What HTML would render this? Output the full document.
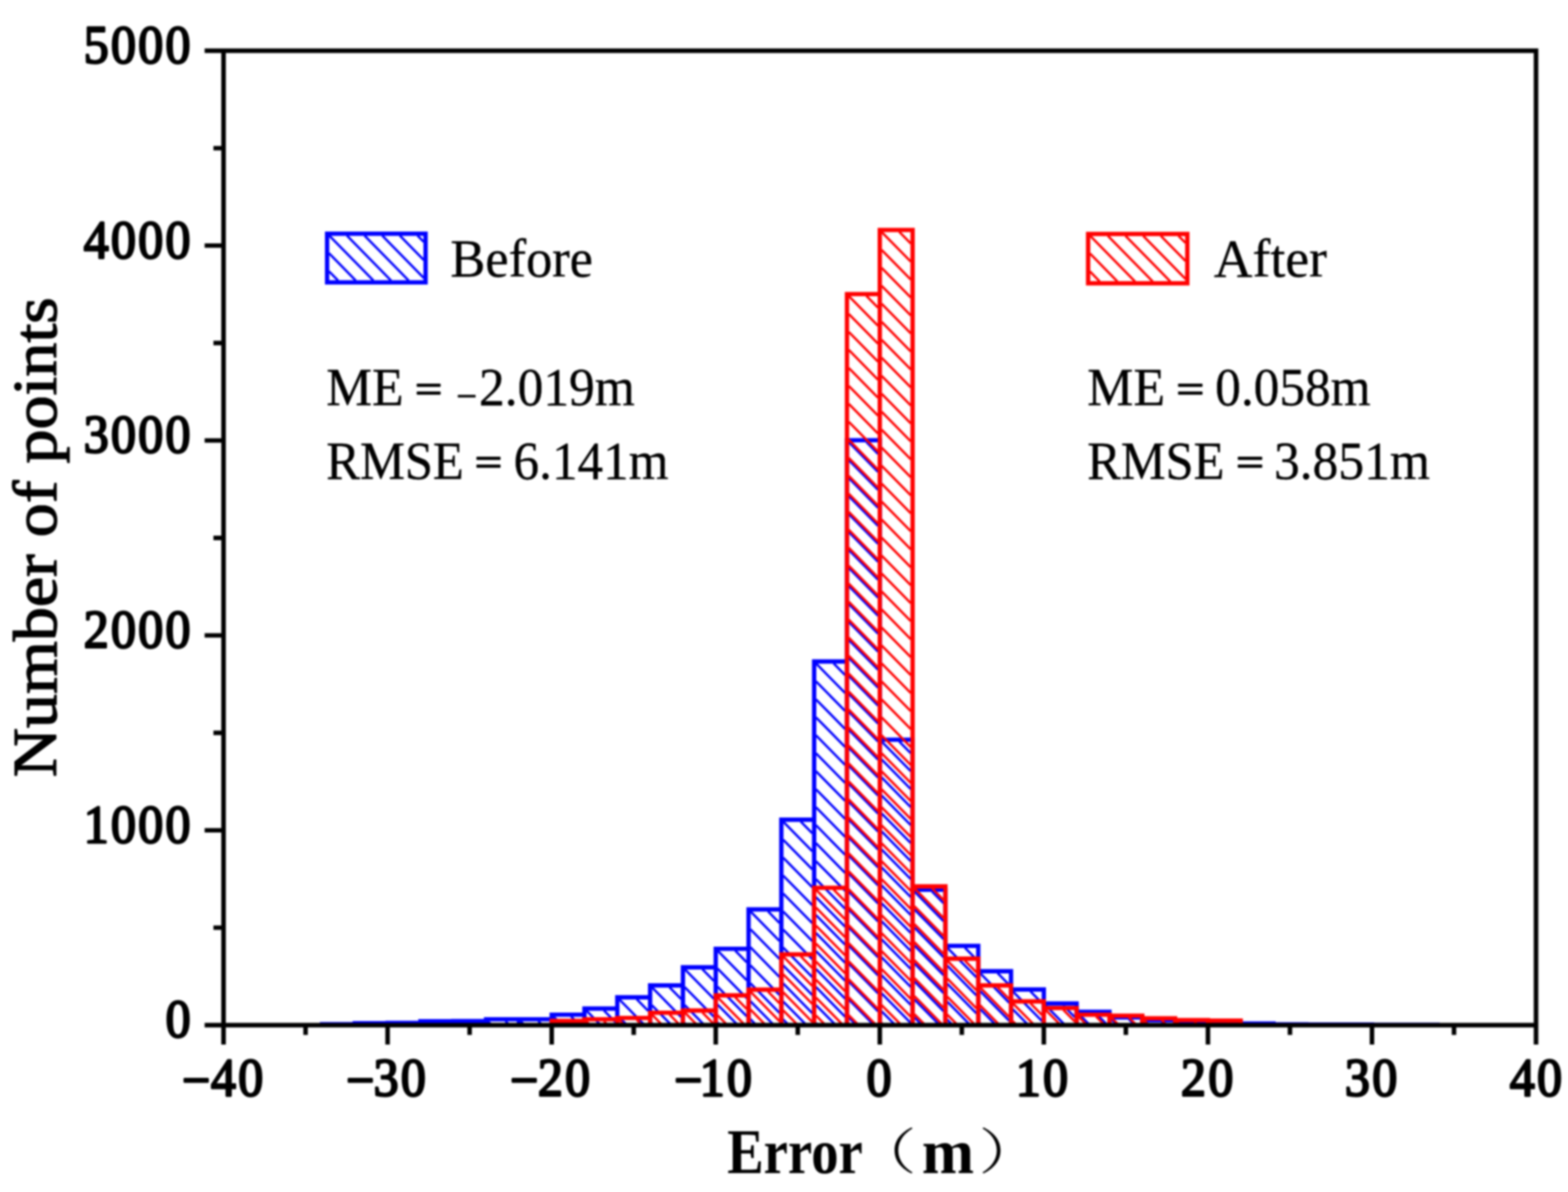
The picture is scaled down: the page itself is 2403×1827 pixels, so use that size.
<!DOCTYPE html>
<html lang="en"><head><meta charset="utf-8"><title>Error histogram</title>
<style>html,body{margin:0;padding:0;background:#fff}body{width:2403px;height:1827px;overflow:hidden}svg{display:block}text{white-space:pre}</style>
</head><body>
<svg width="2403" height="1827" viewBox="0 0 2403 1827">
<rect width="2403" height="1827" fill="#fff"/>
<defs><filter id="soft" filterUnits="userSpaceOnUse" x="0" y="0" width="2403" height="1827" color-interpolation-filters="sRGB"><feGaussianBlur stdDeviation="1.6"/></filter></defs>
<g filter="url(#soft)">
<rect width="2403" height="1827" fill="#fff"/>
<g id="bars-before">
<path d="M674.1 1568.1L677.2 1571.3M647.1 1568.2L650.2 1571.3M724.4 1567.8L727.8 1571.3M697.4 1567.9L700.8 1571.3M774.7 1565.1L780.7 1571.3M747.7 1565.2L753.7 1571.3M825.0 1565.1L831.0 1571.3M798.0 1565.2L804.0 1571.3M875.2 1558.0L888.3 1571.3M848.2 1558.0L861.3 1571.3M925.5 1548.7L943.2 1566.7M898.5 1548.8L920.7 1571.3M975.8 1531.4L993.5 1549.4M948.8 1531.4L987.9 1571.3M948.8 1559.0L960.9 1571.3M1026.1 1513.2L1043.8 1531.2M999.1 1513.2L1043.8 1558.7M999.1 1540.8L1029.1 1571.3M999.1 1568.3L1002.0 1571.3M1076.4 1485.4L1094.1 1503.4M1049.4 1485.4L1094.1 1531.0M1049.4 1513.0L1094.1 1558.5M1049.4 1540.6L1079.6 1571.3M1049.4 1568.1L1052.5 1571.3M1126.7 1457.0L1144.4 1475.0M1099.7 1457.1L1144.4 1502.6M1099.7 1484.6L1144.4 1530.1M1099.7 1512.2L1144.4 1557.7M1099.7 1539.7L1130.7 1571.3M1099.7 1567.3L1103.6 1571.3M1177.0 1396.7L1194.6 1414.7M1150.0 1396.7L1194.6 1442.2M1150.0 1424.3L1194.6 1469.8M1150.0 1451.8L1194.6 1497.4M1150.0 1479.4L1194.6 1524.9M1150.0 1507.0L1194.6 1552.5M1150.0 1534.5L1186.1 1571.3M1150.0 1562.1L1159.0 1571.3M1227.2 1259.2L1244.9 1277.3M1200.2 1259.3L1244.9 1304.8M1200.2 1286.9L1244.9 1332.4M1200.2 1314.4L1244.9 1360.0M1200.2 1342.0L1244.9 1387.5M1200.2 1369.5L1244.9 1415.1M1200.2 1397.1L1244.9 1442.6M1200.2 1424.7L1244.9 1470.2M1200.2 1452.2L1244.9 1497.8M1200.2 1479.8L1244.9 1525.3M1200.2 1507.3L1244.9 1552.9M1200.2 1534.9L1236.0 1571.3M1200.2 1562.5L1208.9 1571.3M1277.5 1016.7L1295.2 1034.7M1250.5 1016.7L1295.2 1062.3M1250.5 1044.3L1295.2 1089.8M1250.5 1071.9L1295.2 1117.4M1250.5 1099.4L1295.2 1145.0M1250.5 1127.0L1295.2 1172.5M1250.5 1154.5L1295.2 1200.1M1250.5 1182.1L1295.2 1227.6M1250.5 1209.7L1295.2 1255.2M1250.5 1237.2L1295.2 1282.8M1250.5 1264.8L1295.2 1310.3M1250.5 1292.3L1295.2 1337.9M1250.5 1319.9L1295.2 1365.4M1250.5 1347.5L1295.2 1393.0M1250.5 1375.0L1295.2 1420.6M1250.5 1402.6L1295.2 1448.1M1250.5 1430.1L1295.2 1475.7M1250.5 1457.7L1295.2 1503.2M1250.5 1485.3L1295.2 1530.8M1250.5 1512.8L1295.2 1558.4M1250.5 1540.4L1280.9 1571.3M1250.5 1567.9L1253.8 1571.3M1327.8 677.6L1345.5 695.7M1300.8 677.7L1345.5 723.2M1300.8 705.3L1345.5 750.8M1300.8 732.8L1345.5 778.3M1300.8 760.4L1345.5 805.9M1300.8 787.9L1345.5 833.5M1300.8 815.5L1345.5 861.0M1300.8 843.1L1345.5 888.6M1300.8 870.6L1345.5 916.1M1300.8 898.2L1345.5 943.7M1300.8 925.7L1345.5 971.3M1300.8 953.3L1345.5 998.8M1300.8 980.9L1345.5 1026.4M1300.8 1008.4L1345.5 1053.9M1300.8 1036.0L1345.5 1081.5M1300.8 1063.5L1345.5 1109.1M1300.8 1091.1L1345.5 1136.6M1300.8 1118.7L1345.5 1164.2M1300.8 1146.2L1345.5 1191.7M1300.8 1173.8L1345.5 1219.3M1300.8 1201.3L1345.5 1246.9M1300.8 1228.9L1345.5 1274.4M1300.8 1256.5L1345.5 1302.0M1300.8 1284.0L1345.5 1329.5M1300.8 1311.6L1345.5 1357.1M1300.8 1339.1L1345.5 1384.7M1300.8 1366.7L1345.5 1412.2M1300.8 1394.3L1345.5 1439.8M1300.8 1421.8L1345.5 1467.3M1300.8 1449.4L1345.5 1494.9M1300.8 1476.9L1345.5 1522.5M1300.8 1504.5L1345.5 1550.0M1300.8 1532.1L1339.3 1571.3M1300.8 1559.6L1312.3 1571.3M1378.1 1136.5L1395.8 1154.5M1351.1 1136.5L1395.8 1182.1M1351.1 1164.1L1395.8 1209.6M1351.1 1191.6L1395.8 1237.2M1351.1 1219.2L1395.8 1264.7M1351.1 1246.8L1395.8 1292.3M1351.1 1274.3L1395.8 1319.9M1351.1 1301.9L1395.8 1347.4M1351.1 1329.4L1395.8 1375.0M1351.1 1357.0L1395.8 1402.5M1351.1 1384.6L1395.8 1430.1M1351.1 1412.1L1395.8 1457.7M1351.1 1439.7L1395.8 1485.2M1351.1 1467.2L1395.8 1512.8M1351.1 1494.8L1395.8 1540.3M1351.1 1522.4L1395.8 1567.9M1351.1 1549.9L1372.1 1571.3M1428.4 1366.5L1446.1 1384.5M1401.4 1366.5L1446.1 1412.1M1401.4 1394.1L1446.1 1439.6M1401.4 1421.7L1446.1 1467.2M1401.4 1449.2L1446.1 1494.8M1401.4 1476.8L1446.1 1522.3M1401.4 1504.3L1446.1 1549.9M1401.4 1531.9L1440.0 1571.3M1401.4 1559.5L1413.0 1571.3M1478.7 1452.5L1496.4 1470.5M1451.7 1452.6L1496.4 1498.1M1451.7 1480.1L1496.4 1525.7M1451.7 1507.7L1496.4 1553.2M1451.7 1535.3L1487.0 1571.3M1451.7 1562.8L1460.0 1571.3M1528.9 1491.4L1546.6 1509.4M1502.0 1491.4L1546.6 1536.9M1502.0 1519.0L1546.6 1564.5M1502.0 1546.5L1526.3 1571.3M1579.2 1519.4L1596.9 1537.5M1552.2 1519.5L1596.9 1565.0M1552.2 1547.0L1576.0 1571.3M1629.5 1540.9L1647.2 1559.0M1602.5 1541.0L1632.3 1571.3M1602.5 1568.6L1605.2 1571.3M1679.8 1553.5L1697.3 1571.3M1652.8 1553.5L1670.2 1571.3M1730.1 1562.2L1739.1 1571.3M1703.1 1562.2L1712.0 1571.3M1780.4 1566.6L1785.0 1571.3M1753.4 1566.7L1757.9 1571.3M1830.7 1568.7L1833.2 1571.3M1803.7 1568.8L1806.1 1571.3" stroke="#0000ff" stroke-width="3.6" fill="none"/>
<path d="M493.5 1571.3V1569.8H543.7V1571.3M543.7 1571.3V1568.3H594.0V1571.3M594.0 1571.3V1567.7H644.3V1571.3M644.3 1571.3V1565.3H694.6V1571.3M694.6 1571.3V1565.0H744.9V1571.3M744.9 1571.3V1562.3H795.2V1571.3M795.2 1571.3V1562.3H845.5V1571.3M845.5 1571.3V1555.2H895.7V1571.3M895.7 1571.3V1545.9H946.0V1571.3M946.0 1571.3V1528.6H996.3V1571.3M996.3 1571.3V1510.4H1046.6V1571.3M1046.6 1571.3V1482.6H1096.9V1571.3M1096.9 1571.3V1454.2H1147.2V1571.3M1147.2 1571.3V1393.9H1197.4V1571.3M1197.4 1571.3V1256.4H1247.7V1571.3M1247.7 1571.3V1013.9H1298.0V1571.3M1298.0 1571.3V674.8H1348.3V1571.3M1348.3 1571.3V1133.7H1398.6V1571.3M1398.6 1571.3V1363.7H1448.9V1571.3M1448.9 1571.3V1449.7H1499.2V1571.3M1499.2 1571.3V1488.6H1549.4V1571.3M1549.4 1571.3V1516.6H1599.7V1571.3M1599.7 1571.3V1538.1H1650.0V1571.3M1650.0 1571.3V1550.7H1700.3V1571.3M1700.3 1571.3V1559.4H1750.6V1571.3M1750.6 1571.3V1563.8H1800.9V1571.3M1800.9 1571.3V1565.9H1851.2V1571.3M1851.2 1571.3V1567.7H1901.4V1571.3M1901.4 1571.3V1568.9H1951.7V1571.3M1951.7 1571.3V1570.1H2002.0V1571.3M2002.0 1571.3V1570.4H2052.3V1571.3M2052.3 1571.3V1570.4H2102.6V1571.3M2102.6 1571.3V1570.7H2152.9V1571.3M2152.9 1571.3V1570.7H2203.1V1571.3" stroke="#0000ff" stroke-width="6.6" fill="none" stroke-linejoin="miter"/>
</g>
<g id="bars-after">
<path d="M875.2 1567.5L878.9 1571.3M848.2 1567.6L851.9 1571.3M925.5 1565.1L931.6 1571.3M898.5 1565.2L904.5 1571.3M975.8 1563.0L983.9 1571.3M948.8 1563.1L956.9 1571.3M1026.1 1555.0L1042.1 1571.3M999.1 1555.0L1015.1 1571.3M1076.4 1551.7L1094.1 1569.7M1049.4 1551.7L1068.6 1571.3M1126.7 1528.4L1144.4 1546.4M1099.7 1528.4L1141.7 1571.3M1099.7 1556.0L1114.7 1571.3M1177.0 1519.7L1194.6 1537.8M1150.0 1519.8L1194.6 1565.3M1150.0 1547.3L1173.5 1571.3M1227.2 1465.7L1244.9 1483.7M1200.2 1465.7L1244.9 1511.3M1200.2 1493.3L1244.9 1538.8M1200.2 1520.8L1244.9 1566.4M1200.2 1548.4L1222.7 1571.3M1277.5 1363.5L1295.2 1381.5M1250.5 1363.6L1295.2 1409.1M1250.5 1391.1L1295.2 1436.6M1250.5 1418.7L1295.2 1464.2M1250.5 1446.2L1295.2 1491.8M1250.5 1473.8L1295.2 1519.3M1250.5 1501.4L1295.2 1546.9M1250.5 1528.9L1292.1 1571.3M1250.5 1556.5L1265.1 1571.3M1327.8 453.6L1345.5 471.6M1300.8 453.7L1345.5 499.2M1300.8 481.2L1345.5 526.7M1300.8 508.8L1345.5 554.3M1300.8 536.3L1345.5 581.9M1300.8 563.9L1345.5 609.4M1300.8 591.5L1345.5 637.0M1300.8 619.0L1345.5 664.5M1300.8 646.6L1345.5 692.1M1300.8 674.1L1345.5 719.7M1300.8 701.7L1345.5 747.2M1300.8 729.3L1345.5 774.8M1300.8 756.8L1345.5 802.3M1300.8 784.4L1345.5 829.9M1300.8 811.9L1345.5 857.5M1300.8 839.5L1345.5 885.0M1300.8 867.1L1345.5 912.6M1300.8 894.6L1345.5 940.1M1300.8 922.2L1345.5 967.7M1300.8 949.7L1345.5 995.3M1300.8 977.3L1345.5 1022.8M1300.8 1004.9L1345.5 1050.4M1300.8 1032.4L1345.5 1077.9M1300.8 1060.0L1345.5 1105.5M1300.8 1087.5L1345.5 1133.1M1300.8 1115.1L1345.5 1160.6M1300.8 1142.7L1345.5 1188.2M1300.8 1170.2L1345.5 1215.7M1300.8 1197.8L1345.5 1243.3M1300.8 1225.3L1345.5 1270.9M1300.8 1252.9L1345.5 1298.4M1300.8 1280.5L1345.5 1326.0M1300.8 1308.0L1345.5 1353.5M1300.8 1335.6L1345.5 1381.1M1300.8 1363.1L1345.5 1408.7M1300.8 1390.7L1345.5 1436.2M1300.8 1418.3L1345.5 1463.8M1300.8 1445.8L1345.5 1491.3M1300.8 1473.4L1345.5 1518.9M1300.8 1500.9L1345.5 1546.5M1300.8 1528.5L1342.8 1571.3M1300.8 1556.1L1315.8 1571.3M1378.1 355.3L1395.8 373.3M1351.1 355.4L1395.8 400.9M1351.1 382.9L1395.8 428.5M1351.1 410.5L1395.8 456.0M1351.1 438.1L1395.8 483.6M1351.1 465.6L1395.8 511.1M1351.1 493.2L1395.8 538.7M1351.1 520.7L1395.8 566.3M1351.1 548.3L1395.8 593.8M1351.1 575.9L1395.8 621.4M1351.1 603.4L1395.8 648.9M1351.1 631.0L1395.8 676.5M1351.1 658.5L1395.8 704.1M1351.1 686.1L1395.8 731.6M1351.1 713.7L1395.8 759.2M1351.1 741.2L1395.8 786.7M1351.1 768.8L1395.8 814.3M1351.1 796.3L1395.8 841.9M1351.1 823.9L1395.8 869.4M1351.1 851.5L1395.8 897.0M1351.1 879.0L1395.8 924.5M1351.1 906.6L1395.8 952.1M1351.1 934.1L1395.8 979.7M1351.1 961.7L1395.8 1007.2M1351.1 989.3L1395.8 1034.8M1351.1 1016.8L1395.8 1062.3M1351.1 1044.4L1395.8 1089.9M1351.1 1071.9L1395.8 1117.5M1351.1 1099.5L1395.8 1145.0M1351.1 1127.1L1395.8 1172.6M1351.1 1154.6L1395.8 1200.1M1351.1 1182.2L1395.8 1227.7M1351.1 1209.7L1395.8 1255.3M1351.1 1237.3L1395.8 1282.8M1351.1 1264.9L1395.8 1310.4M1351.1 1292.4L1395.8 1337.9M1351.1 1320.0L1395.8 1365.5M1351.1 1347.5L1395.8 1393.1M1351.1 1375.1L1395.8 1420.6M1351.1 1402.7L1395.8 1448.2M1351.1 1430.2L1395.8 1475.7M1351.1 1457.8L1395.8 1503.3M1351.1 1485.3L1395.8 1530.9M1351.1 1512.9L1395.8 1558.4M1351.1 1540.5L1381.4 1571.3M1351.1 1568.0L1354.3 1571.3M1428.4 1361.4L1446.1 1379.4M1401.4 1361.5L1446.1 1407.0M1401.4 1389.0L1446.1 1434.6M1401.4 1416.6L1446.1 1462.1M1401.4 1444.1L1446.1 1489.7M1401.4 1471.7L1446.1 1517.2M1401.4 1499.3L1446.1 1544.8M1401.4 1526.8L1445.0 1571.3M1401.4 1554.4L1418.0 1571.3M1478.7 1472.2L1496.4 1490.3M1451.7 1472.3L1496.4 1517.8M1451.7 1499.8L1496.4 1545.4M1451.7 1527.4L1494.7 1571.3M1451.7 1555.0L1467.7 1571.3M1528.9 1513.2L1546.6 1531.2M1502.0 1513.2L1546.6 1558.7M1502.0 1540.8L1531.9 1571.3M1502.0 1568.3L1504.9 1571.3M1579.2 1537.7L1596.9 1555.7M1552.2 1537.7L1585.2 1571.3M1552.2 1565.3L1558.2 1571.3M1629.5 1547.8L1647.2 1565.8M1602.5 1547.9L1625.5 1571.3M1679.8 1558.0L1692.9 1571.3M1652.8 1558.0L1665.8 1571.3M1730.1 1559.5L1741.7 1571.3M1703.1 1559.5L1714.7 1571.3M1780.4 1563.6L1787.9 1571.3M1753.4 1563.7L1760.8 1571.3M1830.7 1566.3L1835.5 1571.3M1803.7 1566.4L1808.5 1571.3M1880.9 1567.2L1884.9 1571.3M1854.0 1567.3L1857.9 1571.3" stroke="#ff0000" stroke-width="3.6" fill="none"/>
<path d="M845.5 1571.3V1564.7H895.7V1571.3M895.7 1571.3V1562.3H946.0V1571.3M946.0 1571.3V1560.2H996.3V1571.3M996.3 1571.3V1552.2H1046.6V1571.3M1046.6 1571.3V1548.9H1096.9V1571.3M1096.9 1571.3V1525.6H1147.2V1571.3M1147.2 1571.3V1516.9H1197.4V1571.3M1197.4 1571.3V1462.9H1247.7V1571.3M1247.7 1571.3V1360.7H1298.0V1571.3M1298.0 1571.3V450.8H1348.3V1571.3M1348.3 1571.3V352.5H1398.6V1571.3M1398.6 1571.3V1358.6H1448.9V1571.3M1448.9 1571.3V1469.4H1499.2V1571.3M1499.2 1571.3V1510.4H1549.4V1571.3M1549.4 1571.3V1534.9H1599.7V1571.3M1599.7 1571.3V1545.0H1650.0V1571.3M1650.0 1571.3V1555.2H1700.3V1571.3M1700.3 1571.3V1556.7H1750.6V1571.3M1750.6 1571.3V1560.8H1800.9V1571.3M1800.9 1571.3V1563.5H1851.2V1571.3M1851.2 1571.3V1564.4H1901.4V1571.3" stroke="#ff0000" stroke-width="6.6" fill="none" stroke-linejoin="miter"/>
</g>
<g id="legend">
<path d="M639.8 361.0L649.4 370.8M612.7 361.0L649.4 398.4M585.7 361.0L649.4 425.9M558.6 361.0L626.3 430.0M531.6 361.0L599.3 430.0M504.5 361.0L572.3 430.0M504.1 388.1L545.2 430.0M504.1 415.7L518.2 430.0" stroke="#0000ff" stroke-width="3.6" fill="none"/>
<rect x="501.3" y="358.2" width="150.9" height="74.6" stroke="#0000ff" stroke-width="6.6" fill="none"/>
<path d="M1806.1 361.4L1816.8 372.3M1779.0 361.4L1816.8 399.9M1752.0 361.4L1816.8 427.5M1724.9 361.4L1793.6 431.4M1697.9 361.4L1766.6 431.4M1670.8 361.4L1739.5 431.4M1670.4 388.5L1712.5 431.4M1670.4 416.1L1685.4 431.4" stroke="#ff0000" stroke-width="3.6" fill="none"/>
<rect x="1667.6" y="358.6" width="152.0" height="75.6" stroke="#ff0000" stroke-width="6.6" fill="none"/>
</g>
<path d="M342.6 74.2V1601.1M2354.0 74.2V1601.1M313.6 77.7H2357.5M313.6 1571.3H2357.5" stroke="#000" stroke-width="7.0" fill="none"/>
<path d="M327.1 1421.9H342.6M313.6 1272.6H342.6M327.1 1123.2H342.6M313.6 973.9H342.6M327.1 824.5H342.6M313.6 675.1H342.6M327.1 525.8H342.6M313.6 376.4H342.6M327.1 227.1H342.6M468.3 1571.3V1586.3M594.0 1571.3V1601.1M719.7 1571.3V1586.3M845.5 1571.3V1601.1M971.2 1571.3V1586.3M1096.9 1571.3V1601.1M1222.6 1571.3V1586.3M1348.3 1571.3V1601.1M1474.0 1571.3V1586.3M1599.7 1571.3V1601.1M1725.4 1571.3V1586.3M1851.2 1571.3V1601.1M1976.9 1571.3V1586.3M2102.6 1571.3V1601.1M2228.3 1571.3V1586.3" stroke="#000" stroke-width="6.9" fill="none"/>
<g fill="#000">
<text transform="translate(253.64,1589.4) scale(0.384,0.412)" style="font-family:'Liberation Serif',serif;font-weight:normal;font-size:200px;letter-spacing:8.85px;stroke:#000;stroke-width:8.29;stroke-linejoin:round">0</text>
<text transform="translate(128.24,1290.68) scale(0.384,0.412)" style="font-family:'Liberation Serif',serif;font-weight:normal;font-size:200px;letter-spacing:8.85px;stroke:#000;stroke-width:8.29;stroke-linejoin:round">1000</text>
<text transform="translate(128.24,991.96) scale(0.384,0.412)" style="font-family:'Liberation Serif',serif;font-weight:normal;font-size:200px;letter-spacing:8.85px;stroke:#000;stroke-width:8.29;stroke-linejoin:round">2000</text>
<text transform="translate(128.24,693.24) scale(0.384,0.412)" style="font-family:'Liberation Serif',serif;font-weight:normal;font-size:200px;letter-spacing:8.85px;stroke:#000;stroke-width:8.29;stroke-linejoin:round">3000</text>
<text transform="translate(128.24,394.52) scale(0.384,0.412)" style="font-family:'Liberation Serif',serif;font-weight:normal;font-size:200px;letter-spacing:8.85px;stroke:#000;stroke-width:8.29;stroke-linejoin:round">4000</text>
<text transform="translate(128.24,95.8) scale(0.384,0.412)" style="font-family:'Liberation Serif',serif;font-weight:normal;font-size:200px;letter-spacing:8.85px;stroke:#000;stroke-width:8.29;stroke-linejoin:round">5000</text>
<text transform="translate(1328.1,1679.1) scale(0.384,0.412)" style="font-family:'Liberation Serif',serif;font-weight:normal;font-size:200px;letter-spacing:8.85px;stroke:#000;stroke-width:8.29;stroke-linejoin:round">0</text>
<text transform="translate(1556.7,1679.1) scale(0.384,0.412)" style="font-family:'Liberation Serif',serif;font-weight:normal;font-size:200px;letter-spacing:8.85px;stroke:#000;stroke-width:8.29;stroke-linejoin:round">10</text>
<text transform="translate(1809.86,1679.1) scale(0.384,0.412)" style="font-family:'Liberation Serif',serif;font-weight:normal;font-size:200px;letter-spacing:8.85px;stroke:#000;stroke-width:8.29;stroke-linejoin:round">20</text>
<text transform="translate(2061.09,1679.1) scale(0.384,0.412)" style="font-family:'Liberation Serif',serif;font-weight:normal;font-size:200px;letter-spacing:8.85px;stroke:#000;stroke-width:8.29;stroke-linejoin:round">30</text>
<text transform="translate(2313.67,1679.1) scale(0.384,0.412)" style="font-family:'Liberation Serif',serif;font-weight:normal;font-size:200px;letter-spacing:8.85px;stroke:#000;stroke-width:8.29;stroke-linejoin:round">40</text>
<text transform="translate(86.3,1191.21) rotate(-90) scale(0.5215,0.473)" style="font-family:'Liberation Serif',serif;font-weight:normal;font-size:200px;stroke:#000;stroke-width:4.02;stroke-linejoin:round">Number of points</text>
<text transform="translate(690.24,423.5) scale(0.4016,0.412)" style="font-family:'Liberation Serif',serif;font-weight:normal;font-size:200px;stroke:#000;stroke-width:1.23;stroke-linejoin:round">Before</text>
<text transform="translate(1860.34,423.5) scale(0.4104,0.412)" style="font-family:'Liberation Serif',serif;font-weight:normal;font-size:200px;stroke:#000;stroke-width:1.22;stroke-linejoin:round">After</text>
<text transform="translate(0,1679.1) scale(0.384,0.412)" style="font-family:'Liberation Serif',serif;font-weight:normal;font-size:200px"><tspan x="726.55" y="8.25" style="stroke:#000;stroke-width:8.29;stroke-linejoin:round">−</tspan><tspan x="841.92" y="0" style="letter-spacing:8.85px;stroke:#000;stroke-width:8.29;stroke-linejoin:round">40</tspan></text>
<text transform="translate(0,1679.1) scale(0.384,0.412)" style="font-family:'Liberation Serif',serif;font-weight:normal;font-size:200px"><tspan x="1381.3" y="8.25" style="stroke:#000;stroke-width:8.29;stroke-linejoin:round">−</tspan><tspan x="1490.67" y="0" style="letter-spacing:8.85px;stroke:#000;stroke-width:8.29;stroke-linejoin:round">30</tspan></text>
<text transform="translate(0,1679.1) scale(0.384,0.412)" style="font-family:'Liberation Serif',serif;font-weight:normal;font-size:200px"><tspan x="2036.05" y="8.25" style="stroke:#000;stroke-width:8.29;stroke-linejoin:round">−</tspan><tspan x="2146.43" y="0" style="letter-spacing:8.85px;stroke:#000;stroke-width:8.29;stroke-linejoin:round">20</tspan></text>
<text transform="translate(0,1679.1) scale(0.384,0.412)" style="font-family:'Liberation Serif',serif;font-weight:normal;font-size:200px"><tspan x="2690.8" y="8.25" style="stroke:#000;stroke-width:8.29;stroke-linejoin:round">−</tspan><tspan x="2792.18" y="0" style="letter-spacing:8.85px;stroke:#000;stroke-width:8.29;stroke-linejoin:round">10</tspan></text>
<text transform="translate(0,1798.2) scale(0.4189,0.484)" style="font-family:'Liberation Serif',serif;font-weight:bold;font-size:200px"><tspan x="2660.36" y="0">Error</tspan><tspan x="3121.16" y="-11.98" textLength="232.11" lengthAdjust="spacingAndGlyphs" style="font-size:156.2px;font-family:'Liberation Serif','Noto Serif CJK SC',serif;font-weight:300">（</tspan><tspan x="3372.27" y="0" textLength="191.08" lengthAdjust="spacingAndGlyphs">m</tspan><tspan x="3579.57" y="-11.98" textLength="232.93" lengthAdjust="spacingAndGlyphs" style="font-size:156.2px;font-family:'Liberation Serif','Noto Serif CJK SC',serif;font-weight:300">）</tspan></text>
<text transform="translate(0,621) scale(0.3946,0.412)" style="font-family:'Liberation Serif',serif;font-weight:normal;font-size:200px"><tspan x="1267.23" y="0" style="stroke:#000;stroke-width:1.24;stroke-linejoin:round">ME</tspan> <tspan x="1612.69" y="-12.38" textLength="104.7" lengthAdjust="spacingAndGlyphs" style="font-size:145.63px;stroke:#000;stroke-width:5.25;stroke-linejoin:round">=</tspan> <tspan x="1771.98" y="13.83" textLength="80.63" lengthAdjust="spacingAndGlyphs" style="font-size:145.63px;stroke:#000;stroke-width:2.5;stroke-linejoin:round">−</tspan><tspan x="1860.24" y="0" style="stroke:#000;stroke-width:1.24;stroke-linejoin:round">2.019m</tspan></text>
<text transform="translate(0,733.5) scale(0.3921,0.412)" style="font-family:'Liberation Serif',serif;font-weight:normal;font-size:200px"><tspan x="1275.48" y="0" textLength="537.31" lengthAdjust="spacingAndGlyphs" style="stroke:#000;stroke-width:1.25;stroke-linejoin:round">RMSE</tspan> <tspan x="1855.84" y="-12.38" textLength="106.28" lengthAdjust="spacingAndGlyphs" style="font-size:145.63px;stroke:#000;stroke-width:5.22;stroke-linejoin:round">=</tspan> <tspan x="2007.43" y="0" style="stroke:#000;stroke-width:1.24;stroke-linejoin:round">6.141m</tspan></text>
<text transform="translate(0,621) scale(0.3935,0.412)" style="font-family:'Liberation Serif',serif;font-weight:normal;font-size:200px"><tspan x="4234.69" y="0" textLength="302.5" lengthAdjust="spacingAndGlyphs" style="stroke:#000;stroke-width:1.24;stroke-linejoin:round">ME</tspan> <tspan x="4582.03" y="-12.38" textLength="107.43" lengthAdjust="spacingAndGlyphs" style="font-size:145.63px;stroke:#000;stroke-width:5.18;stroke-linejoin:round">=</tspan> <tspan x="4732.66" y="0" style="stroke:#000;stroke-width:1.24;stroke-linejoin:round">0.058m</tspan></text>
<text transform="translate(0,733.5) scale(0.3948,0.412)" style="font-family:'Liberation Serif',serif;font-weight:normal;font-size:200px"><tspan x="4220.62" y="0" textLength="532.1" lengthAdjust="spacingAndGlyphs" style="stroke:#000;stroke-width:1.25;stroke-linejoin:round">RMSE</tspan> <tspan x="4798.68" y="-12.38" textLength="107.07" lengthAdjust="spacingAndGlyphs" style="font-size:145.63px;stroke:#000;stroke-width:5.18;stroke-linejoin:round">=</tspan> <tspan x="4945.26" y="0" style="stroke:#000;stroke-width:1.24;stroke-linejoin:round">3.851m</tspan></text>
</g>
</g>
</svg>
</body></html>
